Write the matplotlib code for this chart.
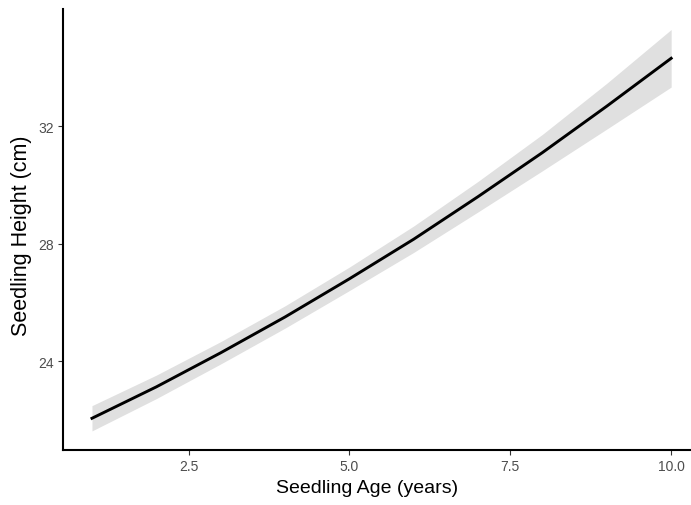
import matplotlib
matplotlib.use('Agg')
import matplotlib.pyplot as plt

# Fitted seedling height by age with confidence band
age = [1, 2, 3, 4, 5, 6, 7, 8, 9, 10]
height_fit = [22.05, 23.12, 24.28, 25.50, 26.80, 28.15, 29.60, 31.10, 32.68, 34.31]
height_lower = [21.62, 22.72, 23.90, 25.12, 26.40, 27.70, 29.08, 30.48, 31.90, 33.33]
height_upper = [22.48, 23.52, 24.66, 25.88, 27.20, 28.60, 30.12, 31.72, 33.46, 35.29]

x_ticks = [2.5, 5.0, 7.5, 10.0]
x_tick_labels = ['2.5', '5.0', '7.5', '10.0']
y_ticks = [24, 28, 32]
y_tick_labels = ['24', '28', '32']

plt.rcParams['font.family'] = ['Liberation Sans', 'DejaVu Sans']

fig = plt.figure(figsize=(6.91, 5.06), dpi=100)
ax = fig.add_axes([0.0912, 0.1087, 0.922, 0.871])

ax.fill_between(age, height_lower, height_upper, color='#e0e0e0', linewidth=0)
ax.plot(age, height_fit, color='black', linewidth=2.1)

ax.set_xlim(0.55, 10.45)
ax.set_ylim(20.97, 35.98)
ax.set_xticks(x_ticks)
ax.set_xticklabels(x_tick_labels)
ax.set_yticks(y_ticks)
ax.set_yticklabels(y_tick_labels)
ax.tick_params(axis='both', labelsize=10, labelcolor='#4d4d4d', color='#333333',
               length=3.5, width=0.8, pad=3)

for side in ['top', 'right']:
    ax.spines[side].set_visible(False)
for side in ['left', 'bottom']:
    ax.spines[side].set_linewidth(1.5)
    ax.spines[side].set_color('black')

ax.set_xlabel('Seedling Age (years)', fontsize=14)
ax.set_ylabel('Seedling Height (cm)', fontsize=15.5)
ax.xaxis.set_label_coords(0.477, -0.066)
ax.yaxis.set_label_coords(-0.049, 0.4875)

fig.savefig('out.png', dpi=100)
